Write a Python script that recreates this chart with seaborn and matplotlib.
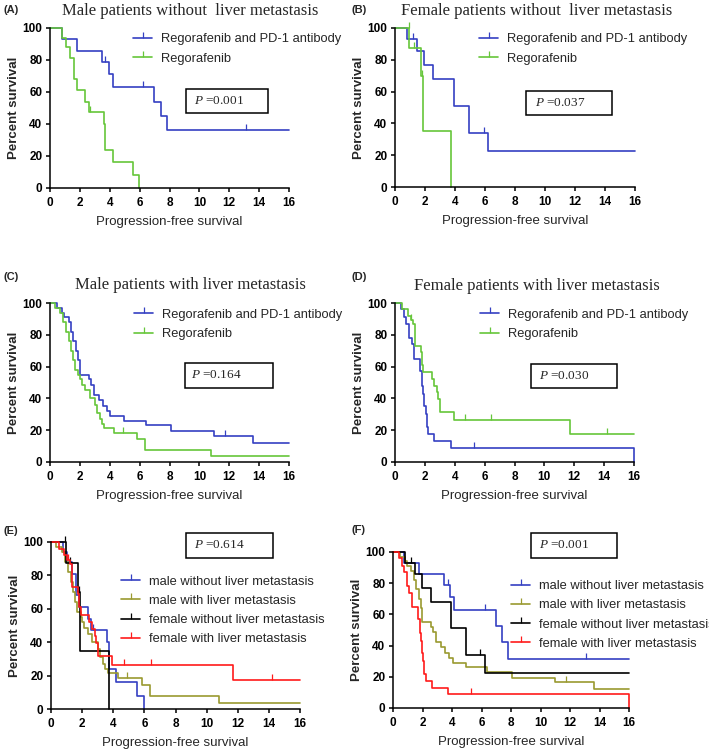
import numpy as np
import matplotlib
matplotlib.use("Agg")
import matplotlib.pyplot as plt
import seaborn as sns
from matplotlib.lines import Line2D
from matplotlib.patches import Rectangle

# Kaplan-Meier step data (time in months, percent surviving)
# Panel A: male patients without liver metastasis
a_combo_t = [0, 0.8, 1.8, 3.45, 3.95, 4.2, 6.95, 7.4, 7.8]
a_combo_s = [100, 92.9, 85.7, 78.6, 71.0, 62.9, 54.0, 45.0, 36.0]
a_combo_c = [3.7, 6.25, 13.1]
a_rego_t = [0, 0.8, 1.05, 1.35, 1.6, 1.8, 2.35, 2.6, 3.6, 3.7, 4.2, 5.55, 5.95]
a_rego_s = [100, 94, 88, 81, 68, 61, 54, 47.5, 40, 24, 16, 8, 0]
a_rego_c = [2.7]

# Panel B: female patients without liver metastasis
b_combo_t = [0, 0.8, 1.47, 1.96, 2.56, 3.9, 4.96, 6.22]
b_combo_s = [100, 92.9, 85.7, 76.9, 68.1, 51.0, 34.0, 22.7]
b_combo_c = [1.2, 5.9]
b_rego_t = [0, 0.95, 1.75, 1.85, 3.73]
b_rego_s = [100, 87.5, 70, 35, 0]
b_rego_c = [0.9, 1.25, 1.8]

# Panel C: male patients with liver metastasis
c_combo_t = [0, 0.45, 0.8, 0.95, 1.25, 1.4, 1.57, 1.75, 1.87, 1.98, 2.58, 2.74,
             2.92, 3.26, 3.53, 3.82, 4.04, 4.94, 6.4, 8.1, 11.0, 13.6]
c_combo_s = [100, 97, 94, 91, 88, 82, 76, 70, 64, 55, 52, 48.5,
             42, 39, 35.5, 32, 29, 26, 23, 19.5, 16.5, 12]
c_combo_c = [11.7]
c_rego_t = [0, 0.35, 0.7, 0.9, 1.1, 1.28, 1.42, 1.53, 1.7, 1.9, 2.02, 2.15,
            2.36, 2.65, 3.0, 3.15, 3.33, 3.48, 3.64, 4.3, 5.85, 6.35, 10.8]
c_rego_s = [100, 97, 94, 88, 82, 76, 70, 64, 58, 55, 52, 48.5,
            45, 40, 36, 31, 27, 24, 21.5, 18.5, 14.5, 7.5, 3.7]
c_rego_c = [4.9]

# Panel D: female patients with liver metastasis
d_combo_t = [0, 0.4, 0.6, 0.73, 0.96, 1.11, 1.29, 1.7, 1.8, 1.88, 1.96, 2.05,
             2.13, 2.22, 2.62, 3.72, 16]
d_combo_s = [100, 96, 91, 87, 78, 74, 65, 57, 48, 43, 35, 30,
             22, 17.4, 13, 8.7, 0]
d_combo_c = [5.3]
d_rego_t = [0, 0.5, 0.85, 1.05, 1.2, 1.35, 1.72, 1.8, 1.9, 2.45, 2.62, 2.8,
            2.9, 3.0, 3.92, 11.7]
d_rego_s = [100, 96, 92, 89.5, 87, 73, 69, 61, 56.5, 52, 48, 44,
            39.5, 31.5, 26.3, 17.6]
d_rego_c = [1.1, 4.7, 6.4, 14.2]

# Panel F: male without liver metastasis (combination group, as drawn in F)
f_male_no_t = [0, 0.77, 1.74, 3.44, 3.85, 4.12, 6.95, 7.4, 7.78]
f_male_no_s = [100, 93, 86, 79, 71, 63, 52.6, 42.1, 31.6]
f_male_no_c = [3.7, 6.25, 13.1]

two_labels = ["Regorafenib and PD-1 antibody", "Regorafenib"]
four_labels = ["male without liver metastasis", "male with liver metastasis",
               "female without liver metastasis", "female with liver metastasis"]
p_values = ["0.001", "0.037", "0.164", "0.030", "0.614", "0.001"]
titles = ["Male patients without  liver metastasis",
          "Female patients without  liver metastasis",
          "Male patients with liver metastasis",
          "Female patients with liver metastasis"]

BLUE = "#3540c2"
GREEN = "#66c63a"
OLIVE = "#9a9a30"
BLACK = "#000000"
RED = "#ff1a1a"

W, H = 709, 750

sns.set_style("ticks")
plt.rcParams["font.family"] = ["Liberation Sans", "DejaVu Sans"]
plt.rcParams["mathtext.fontset"] = "custom"
plt.rcParams["mathtext.it"] = "Liberation Serif:italic"
plt.rcParams["mathtext.rm"] = "Liberation Serif"

fig = plt.figure(figsize=(W / 100, H / 100), dpi=100)


def px_rect(x0, y0, x1, y1):
    return [x0 / W, 1 - y1 / H, (x1 - x0) / W, (y1 - y0) / H]


def draw_curve(ax, t, s, cens, color):
    t = list(t)
    s = list(s)
    if s[-1] > 0 and t[-1] < 16:
        t.append(16)
        s.append(s[-1])
    sns.lineplot(x=t, y=s, ax=ax, color=color, lw=1.2, drawstyle="steps-post",
                 estimator=None, sort=False, legend=False, clip_on=False)
    if cens:
        idx = np.searchsorted(t, cens, side="right") - 1
        ax.plot(cens, np.array(s)[idx], ls="none", marker=2, ms=4.5, mew=0.9,
                color=color, clip_on=False)


def style_axes(ax):
    ax.set_xlim(0, 16)
    ax.set_ylim(0, 100)
    ax.set_xticks(range(0, 17, 2))
    ax.set_yticks(range(0, 101, 20))
    sns.despine(ax=ax)
    for sp in ["left", "bottom"]:
        ax.spines[sp].set_linewidth(1.1)
        ax.spines[sp].set_color("black")
    ax.tick_params(length=3, width=1.1, pad=2.5, labelsize=8.5, colors="black")
    ax.tick_params(axis="x", pad=3.5)
    for lab in ax.get_xticklabels() + ax.get_yticklabels():
        lab.set_fontweight("bold")
    ax.set_ylabel("Percent survival", fontsize=9.5, fontweight="bold", labelpad=2)
    ax.set_xlabel("Progression-free survival", fontsize=9.5, labelpad=5)


def add_legend(ax, colors, labels, x, y):
    handles = [Line2D([0], [0], color=c, lw=1.2, marker=2, ms=4.5, mew=0.9)
               for c in colors]
    ax.legend(handles, labels, loc="center left", bbox_to_anchor=(x / W, 1 - y / H),
              bbox_transform=fig.transFigure, frameon=False, fontsize=9.3,
              handlelength=1.5, handletextpad=0.7, labelspacing=0.55,
              borderpad=0, borderaxespad=0)


def add_pbox(rect, text_x, p):
    x0, y0, x1, y1 = rect
    fig.add_artist(Rectangle((x0 / W, 1 - y1 / H), (x1 - x0) / W, (y1 - y0) / H,
                             transform=fig.transFigure, fill=False, ec="black", lw=1.1))
    fig.text(text_x / W, 1 - (y0 + y1) / 2 / H, "$P$ =" + p, family="Liberation Serif",
             fontsize=9.5, ha="left", va="center")


ax_rects = [(50, 28, 289, 188), (395, 28, 635, 187),
            (50, 303, 289, 462), (395, 303, 634, 462),
            (51, 542, 300, 709), (393, 552, 629, 708)]
axes = [fig.add_axes(px_rect(*r)) for r in ax_rects]

pair_data = [
    (a_combo_t, a_combo_s, a_combo_c, a_rego_t, a_rego_s, a_rego_c),
    (b_combo_t, b_combo_s, b_combo_c, b_rego_t, b_rego_s, b_rego_c),
    (c_combo_t, c_combo_s, c_combo_c, c_rego_t, c_rego_s, c_rego_c),
    (d_combo_t, d_combo_s, d_combo_c, d_rego_t, d_rego_s, d_rego_c),
]
legend_pos = [(133, 49), (479, 49), (134, 324.5), (480, 324.5)]
for ax, (ct, cs, cc, rt, rs, rc), lp in zip(axes[:4], pair_data, legend_pos):
    draw_curve(ax, ct, cs, cc, BLUE)
    draw_curve(ax, rt, rs, rc, GREEN)
    style_axes(ax)
    add_legend(ax, [BLUE, GREEN], two_labels, *lp)

# E: regorafenib-only group by subgroup
ax = axes[4]
draw_curve(ax, a_rego_t, a_rego_s, a_rego_c, BLUE)
draw_curve(ax, c_rego_t, c_rego_s, c_rego_c, OLIVE)
draw_curve(ax, b_rego_t, b_rego_s, b_rego_c, BLACK)
draw_curve(ax, d_rego_t, d_rego_s, d_rego_c, RED)
style_axes(ax)
add_legend(ax, [BLUE, OLIVE, BLACK, RED], four_labels, 121, 610.5)

# F: combination group by subgroup
ax = axes[5]
draw_curve(ax, f_male_no_t, f_male_no_s, f_male_no_c, BLUE)
draw_curve(ax, c_combo_t, c_combo_s, c_combo_c, OLIVE)
draw_curve(ax, b_combo_t, b_combo_s, b_combo_c, BLACK)
draw_curve(ax, d_combo_t, d_combo_s, d_combo_c, RED)
style_axes(ax)
add_legend(ax, [BLUE, OLIVE, BLACK, RED], four_labels, 511, 615)

# titles
title_pos = [(190, 11), (537, 11), (190, 285), (537, 286)]
for txt, (x, y) in zip(titles, title_pos):
    fig.text(x / W, 1 - y / H, txt, family="Liberation Serif", fontsize=12,
             ha="center", va="center")

# panel letters
letter_pos = [(3, 10), (352, 10), (3, 277), (352, 277), (3, 531), (352, 530)]
for letter, (x, y) in zip("ABCDEF", letter_pos):
    fig.text(x / W, 1 - y / H, "(" + letter + ")", fontsize=8, fontweight="bold",
             ha="left", va="center")

# p-value boxes
p_rects = [(186, 89, 268, 113), (526, 91, 612, 115), (185, 363, 273, 388),
           (531, 364, 617, 388), (186, 533, 273, 558), (531, 533, 617, 558)]
p_text_x = [194, 535, 191, 539, 194, 539]
for r, tx, p in zip(p_rects, p_text_x, p_values):
    add_pbox(r, tx, p)

fig.savefig("out.png", dpi=100, facecolor="white")
